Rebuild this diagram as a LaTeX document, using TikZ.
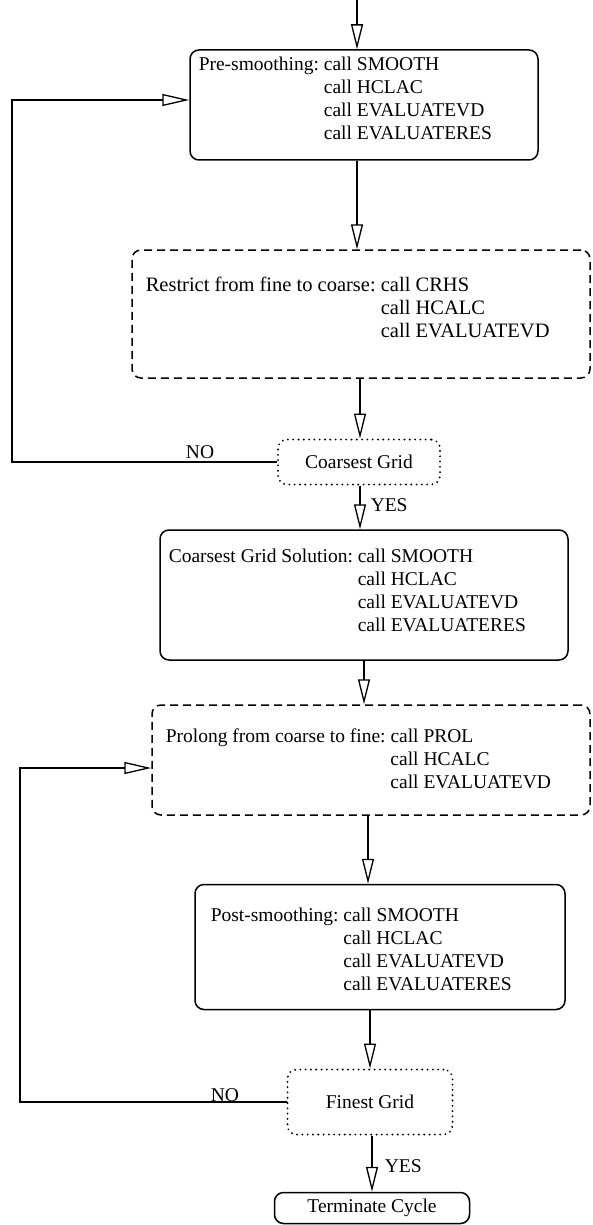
\documentclass[tikz,border=0pt]{standalone}
\usepackage{fontspec}
\setmainfont{Liberation Serif}
\usetikzlibrary{arrows.meta}
\begin{document}
\begin{tikzpicture}[x=1pt,y=-1pt,
  line width=1.5pt,
  arr/.style={-{Triangle[open,length=25pt,width=12pt,line width=1.3pt]}},
  harr/.style={-{Triangle[open,length=27pt,width=12pt,line width=1.3pt]}},
  solidbox/.style={draw,rounded corners=9pt,inner sep=0pt},
  dashbox/.style={draw,dash pattern=on 8pt off 5pt,rounded corners=9pt,inner sep=0pt},
  dotbox/.style={draw,dash pattern=on 0.1pt off 5.2pt,line cap=round,line width=2pt,rounded corners=9pt,inner sep=0pt},
  txt/.style={font=\fontsize{19.5}{23}\selectfont,inner sep=0pt,anchor=west,align=left},
  lbl/.style={font=\fontsize{19.5}{23}\selectfont,inner sep=0pt}]
\useasboundingbox (0,0) rectangle (592,1225);

% boxes
\node[solidbox,minimum width=348pt,minimum height=110pt] (b1) at (364,105) {};
\node[txt] (t1) at (198,100) {\begin{tabular}{@{}l@{\ }l@{}}Pre-smoothing: & call SMOOTH\\ & call HCLAC\\ & call EVALUATEVD\\ & call EVALUATERES\end{tabular}};

\node[dashbox,minimum width=458pt,minimum height=128pt] (b2) at (361,314) {};
\node[txt,font=\fontsize{20.5}{23}\selectfont] (t2) at (145,310) {\begin{tabular}{@{}l@{\ }l@{}}Restrict from fine to coarse: & call CRHS\\ & call HCALC\\ & call EVALUATEVD\end{tabular}};

\node[dotbox,minimum width=162pt,minimum height=45pt,lbl] (c1) at (359,462) {Coarsest Grid};

\node[solidbox,minimum width=408pt,minimum height=130pt] (b3) at (364,595) {};
\node[txt] (t3) at (168,592) {\begin{tabular}{@{}l@{\ }l@{}}Coarsest Grid Solution: & call SMOOTH\\ & call HCLAC\\ & call EVALUATEVD\\ & call EVALUATERES\end{tabular}};

\node[dashbox,minimum width=438pt,minimum height=110pt] (b4) at (371,760) {};
\node[txt] (t4) at (165,761) {\begin{tabular}{@{}l@{\ }l@{}}Prolong from coarse to fine: & call PROL\\ & call HCALC\\ & call EVALUATEVD\end{tabular}};

\node[solidbox,minimum width=370pt,minimum height=125pt] (b5) at (380,947) {};
\node[txt] (t5) at (210,951) {\begin{tabular}{@{}l@{\ }l@{}}Post-smoothing: & call SMOOTH\\ & call HCLAC\\ & call EVALUATEVD\\ & call EVALUATERES\end{tabular}};

\node[dotbox,minimum width=165pt,minimum height=65pt,lbl] (c2) at (370,1102) {Finest Grid};

\node[solidbox,minimum width=195pt,minimum height=31pt,lbl] (tc) at (372,1208) {Terminate Cycle};

% arrow x positions
\coordinate (s0) at (357,0);
\coordinate (a1) at (357,0);
\coordinate (a2) at (360,0);
\coordinate (a3) at (360,0);
\coordinate (a4) at (364,0);
\coordinate (a5) at (368,0);
\coordinate (a6) at (370,0);
\coordinate (a7) at (372,0);
\coordinate (l1) at (12,100);
\coordinate (l2) at (20,768);

% connectors
\draw[arr] (s0) -- (s0 |- b1.north);
\draw[arr] (b1.south -| a1) -- (b2.north -| a1);
\draw[arr] (b2.south -| a2) -- (c1.north -| a2);
\draw[arr] (c1.south -| a3) -- node[lbl,right=10pt,pos=0.45] (y1) {YES} (b3.north -| a3);
\draw[arr] (b3.south -| a4) -- (b4.north -| a4);
\draw[arr] (b4.south -| a5) -- (b5.north -| a5);
\draw[arr] (b5.south -| a6) -- (c2.north -| a6);
\draw[arr] (c2.south -| a7) -- node[lbl,right=12pt,pos=0.55] (y2) {YES} (tc.north -| a7);

\draw[harr] (c1.west) -| (l1) -- (l1 -| b1.west);
\draw[harr] (c2.west) -| (l2) -- (l2 -| b4.west);
\node[lbl] (n1) at (200,452) {NO};
\node[lbl] (n2) at (225,1095) {NO};
\end{tikzpicture}
\end{document}
